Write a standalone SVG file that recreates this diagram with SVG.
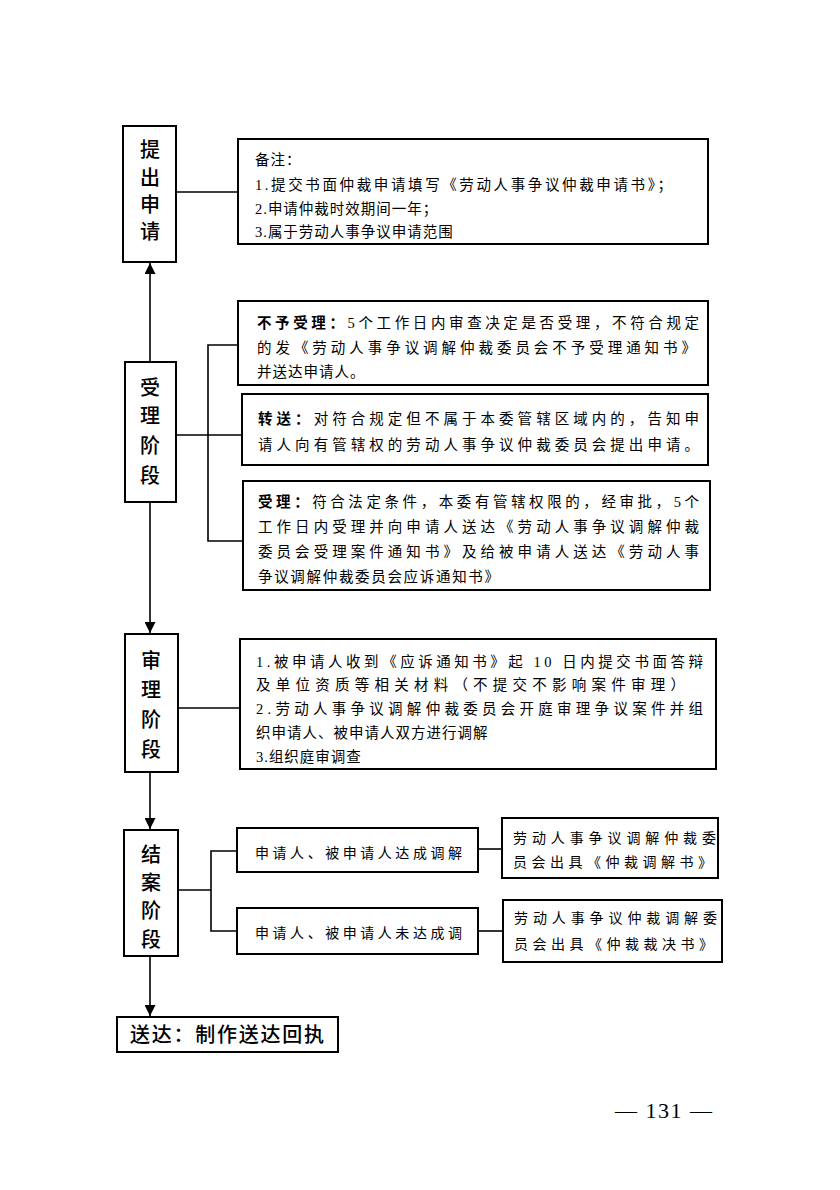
<svg xmlns="http://www.w3.org/2000/svg" width="840" height="1190" viewBox="0 0 840 1190">
<defs>
<marker id="ah" viewBox="0 0 10 10" refX="10" refY="5" markerWidth="11" markerHeight="11" markerUnits="userSpaceOnUse" orient="auto">
<path d="M0,0 L10,5 L0,10 z" fill="#000"/>
</marker>
<style>
.box{fill:#fff;stroke:#000;stroke-width:2}
.ln{fill:none;stroke:#000;stroke-width:1.6}
.lab{font-family:"Noto Sans CJK SC",sans-serif;font-size:20px;font-weight:500;fill:#000;text-anchor:middle}
.t{font-family:"Liberation Serif","Noto Sans CJK SC",serif;font-size:14.5px;fill:#000;letter-spacing:1px}
.b{font-weight:bold}
.s{font-family:"Liberation Serif","Noto Sans CJK SC",serif;font-size:14px;fill:#000}
</style>
</defs>
<rect width="840" height="1190" fill="#fff"/>
<g id="connectors">
<line class="ln" x1="150" y1="362" x2="150" y2="263" marker-end="url(#ah)"/>
<line class="ln" x1="176" y1="192" x2="238" y2="192"/>
<polyline class="ln" points="238,345 208,345 208,541 243,541"/>
<line class="ln" x1="176" y1="435" x2="242" y2="435"/>
<line class="ln" x1="150" y1="502" x2="150" y2="633" marker-end="url(#ah)"/>
<line class="ln" x1="178" y1="708" x2="240" y2="708"/>
<line class="ln" x1="150" y1="772" x2="150" y2="829" marker-end="url(#ah)"/>
<polyline class="ln" points="237,851 211,851 211,931 237,931"/>
<line class="ln" x1="178" y1="890" x2="211" y2="890"/>
<line class="ln" x1="478" y1="849" x2="502" y2="849"/>
<line class="ln" x1="478" y1="931" x2="503" y2="931"/>
<line class="ln" x1="150" y1="956" x2="150" y2="1016" marker-end="url(#ah)"/>
</g>
<g id="n-tichu">
<rect class="box" x="123" y="126" width="53" height="136"/>
<text class="lab" x="150" y="157">提</text>
<text class="lab" x="150" y="185">出</text>
<text class="lab" x="150" y="212">申</text>
<text class="lab" x="150" y="239">请</text>
</g>
<g id="n-note">
<rect class="box" x="238" y="139" width="470" height="105"/>
<text class="t" x="255" y="165">备注：</text>
<text class="t" x="255" y="190" textLength="418" lengthAdjust="spacing">1.提交书面仲裁申请填写《劳动人事争议仲裁申请书》；</text>
<text class="t" x="255" y="214">2.申请仲裁时效期间一年；</text>
<text class="t" x="255" y="237">3.属于劳动人事争议申请范围</text>
</g>
<g id="n-shouli">
<rect class="box" x="125" y="362" width="51" height="140"/>
<text class="lab" x="150" y="395">受</text>
<text class="lab" x="150" y="423">理</text>
<text class="lab" x="150" y="453">阶</text>
<text class="lab" x="150" y="483">段</text>
</g>
<g id="n-buyu">
<rect class="box" x="238" y="301" width="470" height="84"/>
<text class="t" x="257" y="328" textLength="443" lengthAdjust="spacing"><tspan class="b">不予受理：</tspan>5个工作日内审查决定是否受理，不符合规定</text>
<text class="t" x="257" y="353" textLength="440" lengthAdjust="spacing">的发《劳动人事争议调解仲裁委员会不予受理通知书》</text>
<text class="t" x="257" y="377">并送达申请人。</text>
</g>
<g id="n-zhuansong">
<rect class="box" x="242" y="394" width="466" height="71"/>
<text class="t" x="258" y="424" textLength="442" lengthAdjust="spacing"><tspan class="b">转送：</tspan>对符合规定但不属于本委管辖区域内的，告知申</text>
<text class="t" x="258" y="450" textLength="442" lengthAdjust="spacing">请人向有管辖权的劳动人事争议仲裁委员会提出申请。</text>
</g>
<g id="n-accept">
<rect class="box" x="243" y="481" width="467" height="109"/>
<text class="t" x="258" y="507" textLength="442" lengthAdjust="spacing"><tspan class="b">受理：</tspan>符合法定条件，本委有管辖权限的，经审批，5个</text>
<text class="t" x="258" y="532" textLength="442" lengthAdjust="spacing">工作日内受理并向申请人送达《劳动人事争议调解仲裁</text>
<text class="t" x="258" y="557" textLength="442" lengthAdjust="spacing">委员会受理案件通知书》及给被申请人送达《劳动人事</text>
<text class="t" x="258" y="582" textLength="242" lengthAdjust="spacing">争议调解仲裁委员会应诉通知书》</text>
</g>
<g id="n-shenli">
<rect class="box" x="125" y="634" width="53" height="138"/>
<text class="lab" x="151" y="668">审</text>
<text class="lab" x="151" y="697">理</text>
<text class="lab" x="151" y="727">阶</text>
<text class="lab" x="151" y="757">段</text>
</g>
<g id="n-shenli-note">
<rect class="box" x="240" y="639" width="476" height="130"/>
<text class="t" x="256" y="667" textLength="448" lengthAdjust="spacing">1.被申请人收到《应诉通知书》起 10 日内提交书面答辩</text>
<text class="t" x="256" y="690" textLength="430" lengthAdjust="spacing">及单位资质等相关材料（不提交不影响案件审理）</text>
<text class="t" x="256" y="714" textLength="448" lengthAdjust="spacing">2.劳动人事争议调解仲裁委员会开庭审理争议案件并组</text>
<text class="t" x="256" y="738">织申请人、被申请人双方进行调解</text>
<text class="t" x="256" y="762">3.组织庭审调查</text>
</g>
<g id="n-jiean">
<rect class="box" x="124" y="830" width="54" height="126"/>
<text class="lab" x="151" y="862">结</text>
<text class="lab" x="151" y="890">案</text>
<text class="lab" x="151" y="918">阶</text>
<text class="lab" x="151" y="947">段</text>
</g>
<g id="n-dacheng">
<rect class="box" x="237" y="828" width="241" height="44"/>
<text class="s" x="255" y="858" textLength="207" lengthAdjust="spacing">申请人、被申请人达成调解</text>
</g>
<g id="n-weidacheng">
<rect class="box" x="237" y="908" width="241" height="46"/>
<text class="s" x="255" y="938" textLength="207" lengthAdjust="spacing">申请人、被申请人未达成调</text>
</g>
<g id="n-tiaojieshu">
<rect class="box" x="502" y="818" width="216" height="60"/>
<text class="s" x="513" y="843" textLength="203" lengthAdjust="spacing">劳动人事争议调解仲裁委</text>
<text class="s" x="513" y="867" textLength="199" lengthAdjust="spacing">员会出具《仲裁调解书》</text>
</g>
<g id="n-caijueshu">
<rect class="box" x="503" y="900" width="219" height="62"/>
<text class="s" x="514" y="923" textLength="203" lengthAdjust="spacing">劳动人事争议仲裁调解委</text>
<text class="s" x="514" y="949" textLength="199" lengthAdjust="spacing">员会出具《仲裁裁决书》</text>
</g>
<g id="n-songda">
<rect class="box" x="117" y="1017" width="221" height="35"/>
<text class="lab" x="130" y="1042" style="text-anchor:start" textLength="194" lengthAdjust="spacing">送达：制作送达回执</text>
</g>
<text x="615" y="1118" font-family="Liberation Serif, serif" font-size="22" textLength="97" lengthAdjust="spacing">— 131 —</text>
</svg>
